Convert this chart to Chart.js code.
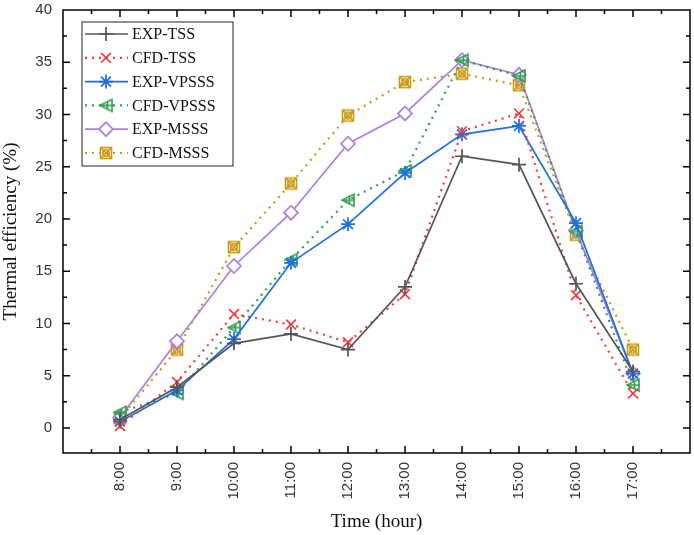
<!DOCTYPE html>
<html>
<head>
<meta charset="utf-8">
<script src="https://cdn.jsdelivr.net/npm/chart.js@4/dist/chart.umd.min.js"></script>
<style>
  html, body { margin: 0; padding: 0; background: #fff; }
  #wrap { width: 694px; height: 535px; }
</style>
</head>
<body>
<div id="wrap"><canvas id="chart" width="694" height="535"></canvas></div>
<script>
const hours = [8, 9, 10, 11, 12, 13, 14, 15, 16, 17];
const expTSS   = [0.8, 3.9, 8.1, 9.0, 7.5, 13.5, 26.0, 25.2, 13.8, 5.4];
const cfdTSS   = [0.2, 4.4, 10.9, 9.9, 8.2, 12.8, 28.4, 30.1, 12.7, 3.3];
const expVPSSS = [0.6, 3.6, 8.5, 15.8, 19.5, 24.4, 28.1, 28.9, 19.6, 5.2];
const cfdVPSSS = [1.5, 3.3, 9.6, 16.1, 21.8, 24.6, 35.2, 33.7, 18.8, 4.1];
const expMSSS  = [1.0, 8.3, 15.5, 20.6, 27.2, 30.1, 35.2, 33.8, 18.9, 5.2];
const cfdMSSS  = [0.9, 7.5, 17.3, 23.4, 29.9, 33.1, 33.9, 32.8, 18.5, 7.5];
const yTicks = [0, 5, 10, 15, 20, 25, 30, 35, 40];

// little canvases for the two Origin-style markers chart.js doesn't have
function marker(kind, color) {
    const c = document.createElement("canvas");
    c.width = 16; c.height = 16;
    const g = c.getContext("2d");
    g.strokeStyle = color;
    g.lineWidth = 1.6;
    if (kind === "boxX") {
        g.strokeRect(2.5, 2.5, 11, 11);
        g.beginPath();
        g.moveTo(2.5, 2.5); g.lineTo(13.5, 13.5);
        g.moveTo(13.5, 2.5); g.lineTo(2.5, 13.5);
        g.stroke();
        g.beginPath(); g.arc(8, 8, 3.2, 0, Math.PI * 2); g.stroke();
    } else {
        g.beginPath();
        g.moveTo(2, 8); g.lineTo(14, 2); g.lineTo(14, 14); g.closePath();
        g.stroke();
        g.beginPath();
        g.moveTo(2, 8); g.lineTo(15, 8);
        g.moveTo(9.5, 4); g.lineTo(9.5, 12);
        g.stroke();
    }
    return c;
}

const pts = vals => hours.map((h, i) => ({ x: h, y: vals[i] }));
const dotted = [2, 5];

function ds(label, vals, color, style, dash, fill) {
    return {
        label, data: pts(vals),
        borderColor: color, backgroundColor: fill || "transparent",
        pointBorderColor: color, pointBackgroundColor: fill || "transparent",
        pointStyle: style, pointRadius: 7, pointBorderWidth: 1.7,
        borderWidth: dash ? 2.2 : 1.7, borderDash: dash || [],
        tension: 0
    };
}

const datasets = [
    ds("EXP-TSS", expTSS, "#555555", "cross", null),
    ds("CFD-TSS", cfdTSS, "#f03c3c", "crossRot", dotted),
    ds("EXP-VPSSS", expVPSSS, "#1f6fdc", "star", null),
    ds("CFD-VPSSS", cfdVPSSS, "#2ea050", marker("tri", "#2ea050"), dotted),
    ds("EXP-MSSS", expMSSS, "#b07ee0", "rectRot", null, "#ffffff"),
    ds("CFD-MSSS", cfdMSSS, "#c89a10", marker("boxX", "#c89a10"), dotted)
];

// plot box should run to x=690 like the original
const stretch = {
    id: "stretch",
    afterLayout(chart) {
        const a = chart.chartArea, x = chart.scales.x;
        const r = chart.width - 4;
        a.right = r; a.width = r - a.left;
        x.right = r; x.width = r - x.left;
        x.configure();
    }
};

// box + inward ticks like Origin
const frame = {
    id: "frame",
    afterDraw(chart) {
        const { ctx, chartArea: a, scales: { x, y } } = chart;
        ctx.save();
        ctx.strokeStyle = "#000";
        ctx.lineWidth = 1.5;
        ctx.strokeRect(a.left, a.top, a.right - a.left, a.bottom - a.top);
        ctx.beginPath();
        for (let v = 7.5; v < 18; v += 0.5) {
            const px = x.getPixelForValue(v);
            const len = v % 1 === 0 ? 7 : 4;
            ctx.moveTo(px, a.bottom); ctx.lineTo(px, a.bottom - len);
            ctx.moveTo(px, a.top); ctx.lineTo(px, a.top + len);
        }
        for (let v = -2.5; v < 40; v += 2.5) {
            const py = y.getPixelForValue(v);
            if (py > a.bottom - 1) continue;
            const len = v % 5 === 0 ? 7 : 4;
            ctx.moveTo(a.left, py); ctx.lineTo(a.left + len, py);
            ctx.moveTo(a.right, py); ctx.lineTo(a.right - len, py);
        }
        ctx.stroke();

        // legend
        const bx = 82, by = 22, bw = 151, bh = 144;
        ctx.fillStyle = "#fff";
        ctx.fillRect(bx, by, bw, bh);
        ctx.lineWidth = 1;
        ctx.strokeStyle = "#222";
        ctx.strokeRect(bx, by, bw, bh);
        ctx.font = "16px 'Liberation Serif', 'Times New Roman', serif";
        ctx.textBaseline = "middle";
        chart.data.datasets.forEach((d, i) => {
            const ry = 34 + i * 23.8;
            ctx.strokeStyle = d.borderColor;
            ctx.lineWidth = d.borderWidth;
            ctx.setLineDash(d.borderDash);
            ctx.beginPath(); ctx.moveTo(85, ry); ctx.lineTo(128, ry); ctx.stroke();
            ctx.setLineDash([]);
            ctx.fillStyle = d.pointBackgroundColor;
            ctx.strokeStyle = d.pointBorderColor;
            ctx.lineWidth = d.pointBorderWidth;
            Chart.helpers.drawPoint(ctx, {
                pointStyle: d.pointStyle, radius: d.pointRadius, borderWidth: d.pointBorderWidth, rotation: 0
            }, 106, ry);
            ctx.fillStyle = "#111";
            ctx.fillText(d.label, 132, ry + 1);
        });
        ctx.restore();
    }
};

Chart.defaults.font.family = "'Liberation Sans', Arial, sans-serif";

new Chart(document.getElementById("chart"), {
    type: "line",
    data: { datasets },
    options: {
        responsive: false,
        animation: false,
        layout: { padding: { top: 10, right: 4, left: 0, bottom: 0 } },
        plugins: { legend: { display: false }, tooltip: { enabled: false } },
        scales: {
            x: {
                type: "linear", min: 7, max: 18,
                afterBuildTicks: s => { s.ticks = hours.map(v => ({ value: v })); },
                afterFit: s => { s.height = 82; s.paddingLeft = 0; s.paddingRight = 0; },
                grid: { display: false, drawTicks: false },
                border: { display: false },
                ticks: {
                    minRotation: 90, maxRotation: 90, padding: 9, color: "#333",
                    font: { size: 15 },
                    callback: v => v + ":00"
                },
                title: {
                    display: true, text: "Time (hour)", color: "#111", padding: { top: 0, bottom: 2 },
                    font: { size: 19, family: "'Liberation Serif', 'Times New Roman', serif" }
                }
            },
            y: {
                min: -2.4, max: 40,
                afterBuildTicks: s => { s.ticks = yTicks.map(v => ({ value: v })); },
                afterFit: s => { s.width = 63; s.paddingTop = 0; s.paddingBottom = 0; },
                grid: { display: false, drawTicks: false },
                border: { display: false },
                ticks: { padding: 11, color: "#333", font: { size: 15 } },
                title: {
                    display: true, text: "Thermal efficiency (%)", color: "#111", padding: { top: 0, bottom: 0 },
                    font: { size: 19, family: "'Liberation Serif', 'Times New Roman', serif" }
                }
            }
        }
    },
    plugins: [stretch, frame]
});
</script>
</body>
</html>
